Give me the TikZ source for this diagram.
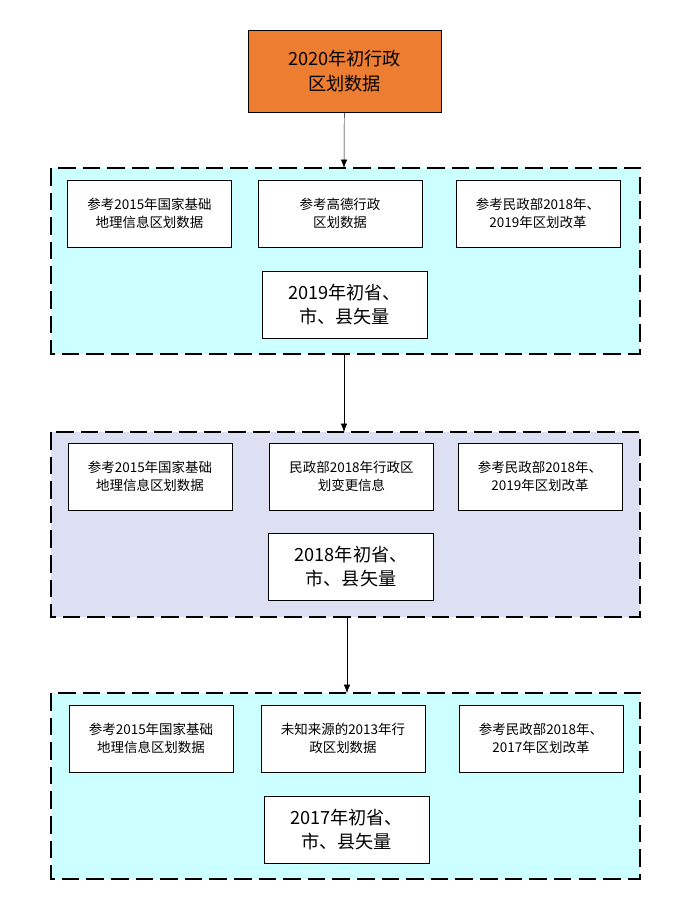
\documentclass[tikz,border=0pt]{standalone}
\usepackage{fontspec}
\setmainfont{Noto Sans CJK SC}
\usetikzlibrary{arrows.meta}
\definecolor{topfill}{HTML}{ED7D31}
\definecolor{cyanfill}{HTML}{CCFFFF}
\definecolor{lavfill}{HTML}{DCE0F2}
\tikzset{
  src/.style={draw=black,thin,fill=white,minimum width=4.92cm,minimum height=2.01cm,align=center,font=\fontsize{11.5}{15.5}\selectfont},
  res/.style={draw=black,thin,fill=white,minimum width=4.95cm,minimum height=2.01cm,align=center,font=\fontsize{15.5}{21}\selectfont},
  panel/.style={draw=black,line width=1.4pt,dash pattern=on 15pt off 6pt},
  flow/.style={-{Latex[length=2.5mm]},thin}
}
\begin{document}
\begin{tikzpicture}[x=0.03cm,y=-0.03cm]
    \useasboundingbox (0,0) rectangle (689,903);

    % top source
    \node[draw=black,fill=topfill,minimum width=5.79cm,minimum height=2.46cm,align=center,font=\fontsize{15.5}{21}\selectfont] (top) at (344.5,71) {2020年初行政\\区划数据};

    % panels
    \draw[panel,fill=cyanfill] (51,168) rectangle (640,354);
    \draw[panel,fill=lavfill] (51,432) rectangle (640,617);
    \draw[panel,fill=cyanfill] (51,693) rectangle (640,879);
    \coordinate (p1top) at (344,168);
    \coordinate (p1bot) at (344,354);
    \coordinate (p2top) at (344,432);
    \coordinate (p2bot) at (347,617);
    \coordinate (p3top) at (347,693);

    % 2019
    \node[src] (a1) at (149.5,213.5) {参考2015年国家基础\\地理信息区划数据};
    \node[src] (b1) at (340,213.5) {参考高德行政\\区划数据};
    \node[src] (c1) at (538,213.5) {参考民政部2018年、\\2019年区划改革};
    \node[res] (r1) at (344.5,304.5) {2019年初省、\\市、县矢量};

    % 2018
    \node[src] (a2) at (150,476.5) {参考2015年国家基础\\地理信息区划数据};
    \node[src] (b2) at (351.5,476.5) {民政部2018年行政区\\划变更信息};
    \node[src] (c2) at (540,476.5) {参考民政部2018年、\\2019年区划改革};
    \node[res] (r2) at (351,566.5) {2018年初省、\\市、县矢量};

    % 2017
    \node[src] (a3) at (151,738.5) {参考2015年国家基础\\地理信息区划数据};
    \node[src] (b3) at (343,738.5) {未知来源的2013年行\\政区划数据};
    \node[src] (c3) at (541,738.5) {参考民政部2018年、\\2017年区划改革};
    \node[res] (r3) at (346.5,829.5) {2017年初省、\\市、县矢量};

    % arrows
    \draw[flow] (top) -- (p1top);
    \draw[flow] (p1bot) -- (p2top);
    \draw[flow] (p2bot) -- (p3top);
\end{tikzpicture}
\end{document}
